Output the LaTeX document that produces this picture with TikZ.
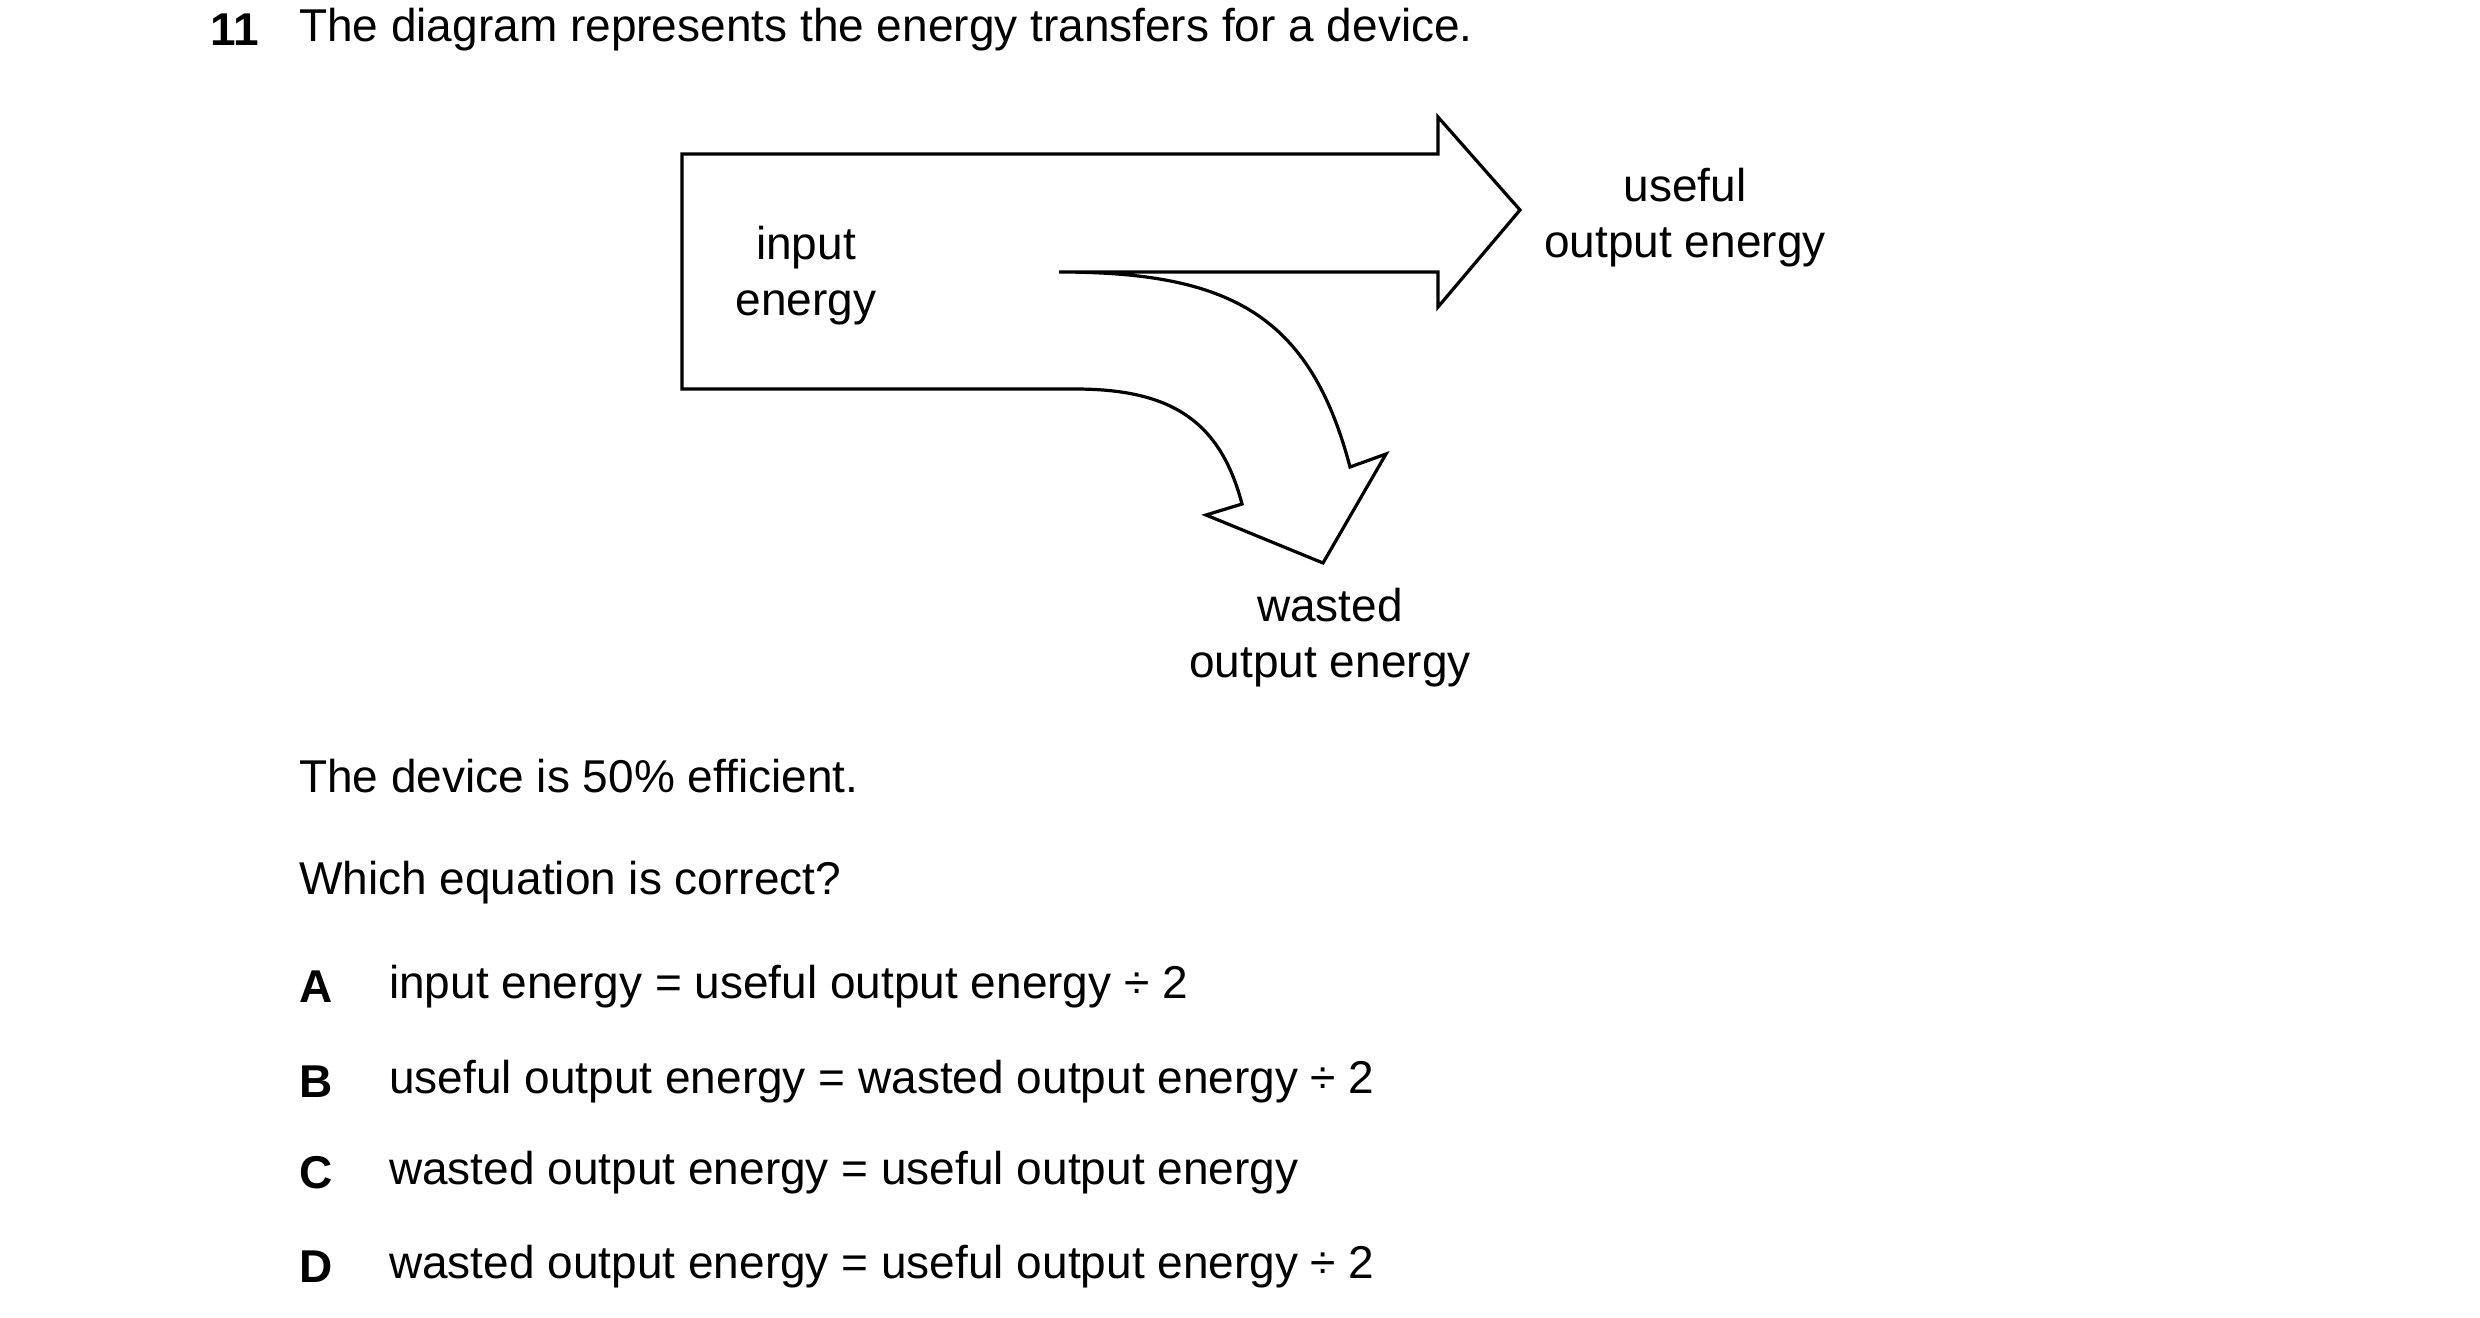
\documentclass[tikz,border=0pt]{standalone}
\usepackage{fontspec}
\setmainfont{Liberation Sans}
\begin{document}
\begin{tikzpicture}[x=1pt,y=-1pt,
  txt/.style={inner sep=0pt,font=\fontsize{46}{56}\selectfont},
  ctr/.style={txt,align=center},
  lft/.style={txt,anchor=west},
  bld/.style={lft,font=\fontsize{46}{56}\selectfont\bfseries},
  arrowshape/.style={draw=black,line width=3.2pt,line join=miter}]
\useasboundingbox (0,0) rectangle (2480,1317);
\draw[arrowshape] (1059,272) -- (1438,272) -- (1438,307) -- (1520,210) -- (1438,117) -- (1438,154) -- (682,154) -- (682,389) -- (1075,389)
  .. controls (1170,389) and (1220,420) .. (1242,504) -- (1206,515) -- (1323,563) -- (1386,454) -- (1350,467)
  .. controls (1310,315) and (1230,272) .. (1059,272) -- cycle;
\node[bld] (num) at (210,30) {11};
\node[lft] (q) at (299,30) {The diagram represents the energy transfers for a device.};
\node[ctr] (in) at (806,276) {input\\energy};
\node[ctr] (us) at (1685,218) {useful\\output energy};
\node[ctr] (wa) at (1330,638) {wasted\\output energy};
\node[lft] (eff) at (299,776) {The device is 50\% efficient.};
\node[lft] (wh) at (299,883) {Which equation is correct?};
\node[bld] (la) at (299,987) {A};
\node[lft] (ta) at (389,987) {input energy = useful output energy ÷ 2};
\node[bld] (lb) at (299,1082) {B};
\node[lft] (tb) at (389,1082) {useful output energy = wasted output energy ÷ 2};
\node[bld] (lc) at (299,1173) {C};
\node[lft] (tc) at (389,1173) {wasted output energy = useful output energy};
\node[bld] (ld) at (299,1267) {D};
\node[lft] (td) at (389,1267) {wasted output energy = useful output energy ÷ 2};
\end{tikzpicture}
\end{document}
